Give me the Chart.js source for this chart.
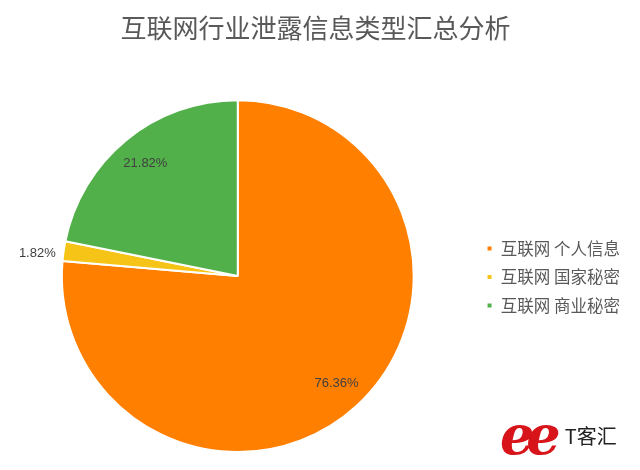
<!DOCTYPE html>
<html lang="zh-CN">
<head>
  <meta charset="UTF-8" />
  <title>互联网行业泄露信息类型汇总分析</title>
  <script src="https://cdn.jsdelivr.net/npm/chart.js"></script>
  <style>
    body {
      margin: 0;
      background: #fff;
      font-family: 'Noto Sans CJK SC', 'Noto Sans', sans-serif;
    }
    .lienzo {
      position: relative;
      width: 640px;
      height: 470px;
    }
    .marca {
      position: absolute;
      left: 500px;
      top: 408px;
      display: flex;
      align-items: center;
    }
    .marca .ee {
      font-family: 'DejaVu Serif', serif;
      font-style: italic;
      font-weight: bold;
      font-size: 54px;
      color: #d8141b;
      letter-spacing: -8px;
      line-height: 1;
    }
    .marca .txt {
      margin-left: 12px;
      font-size: 20px;
      color: #222;
    }
  </style>
</head>
<body>
  <div class="lienzo">
    <canvas id="grafico" width="640" height="470"></canvas>
    <div class="marca"><span class="ee">ee</span><span class="txt">T客汇</span></div>
  </div>

  <script>
    const categorias = ['互联网 个人信息', '互联网 国家秘密', '互联网 商业秘密'];
    const porcentajes = [76.36, 1.82, 21.82];
    const colores = ['#ff7f00', '#f6c417', '#52b04a'];

    // etiquetas de porcentaje sobre cada sector
    const etiquetas = {
      id: 'etiquetas',
      afterDatasetsDraw(chart) {
        const ctx = chart.ctx;
        const meta = chart.getDatasetMeta(0);
        ctx.save();
        ctx.font = '13px "Liberation Sans", Arial, sans-serif';
        ctx.fillStyle = '#404040';
        ctx.textBaseline = 'middle';
        meta.data.forEach((arc, i) => {
          const p = arc.getProps(['x', 'y', 'startAngle', 'endAngle', 'outerRadius'], true);
          const medio = (p.startAngle + p.endAngle) / 2;
          const texto = porcentajes[i].toFixed(2) + '%';
          if (porcentajes[i] < 5) {
            const r = p.outerRadius + 8;
            ctx.textAlign = 'right';
            ctx.fillText(texto, p.x + Math.cos(medio) * r, p.y + Math.sin(medio) * r + 3);
          } else {
            const r = p.outerRadius * 0.83;
            ctx.textAlign = 'center';
            ctx.fillText(texto, p.x + Math.cos(medio) * r, p.y + Math.sin(medio) * r);
          }
        });
        ctx.restore();
      }
    };

    new Chart(document.getElementById('grafico'), {
      type: 'pie',
      data: {
        labels: categorias,
        datasets: [{
          data: porcentajes,
          backgroundColor: colores,
          borderColor: '#ffffff',
          borderWidth: 2,
          hoverOffset: 0
        }]
      },
      options: {
        responsive: false,
        animation: false,
        layout: {
          padding: { left: 1, right: 10, top: 0, bottom: 17 }
        },
        plugins: {
          title: {
            display: true,
            text: '互联网行业泄露信息类型汇总分析',
            color: '#595959',
            font: { family: "'Noto Sans CJK SC', sans-serif", size: 26, weight: 'normal' },
            padding: { top: 13, bottom: 55 }
          },
          legend: {
            position: 'right',
            title: {
              display: true,
              text: '',
              font: { size: 1 },
              padding: { top: 0, bottom: 100 }
            },
            labels: {
              boxWidth: 6,
              boxHeight: 6,
              padding: 12,
              color: '#595959',
              font: { family: "'Noto Sans CJK SC', sans-serif", size: 16.5 }
            }
          },
          tooltip: { enabled: false }
        }
      },
      plugins: [etiquetas]
    });
  </script>
</body>
</html>
